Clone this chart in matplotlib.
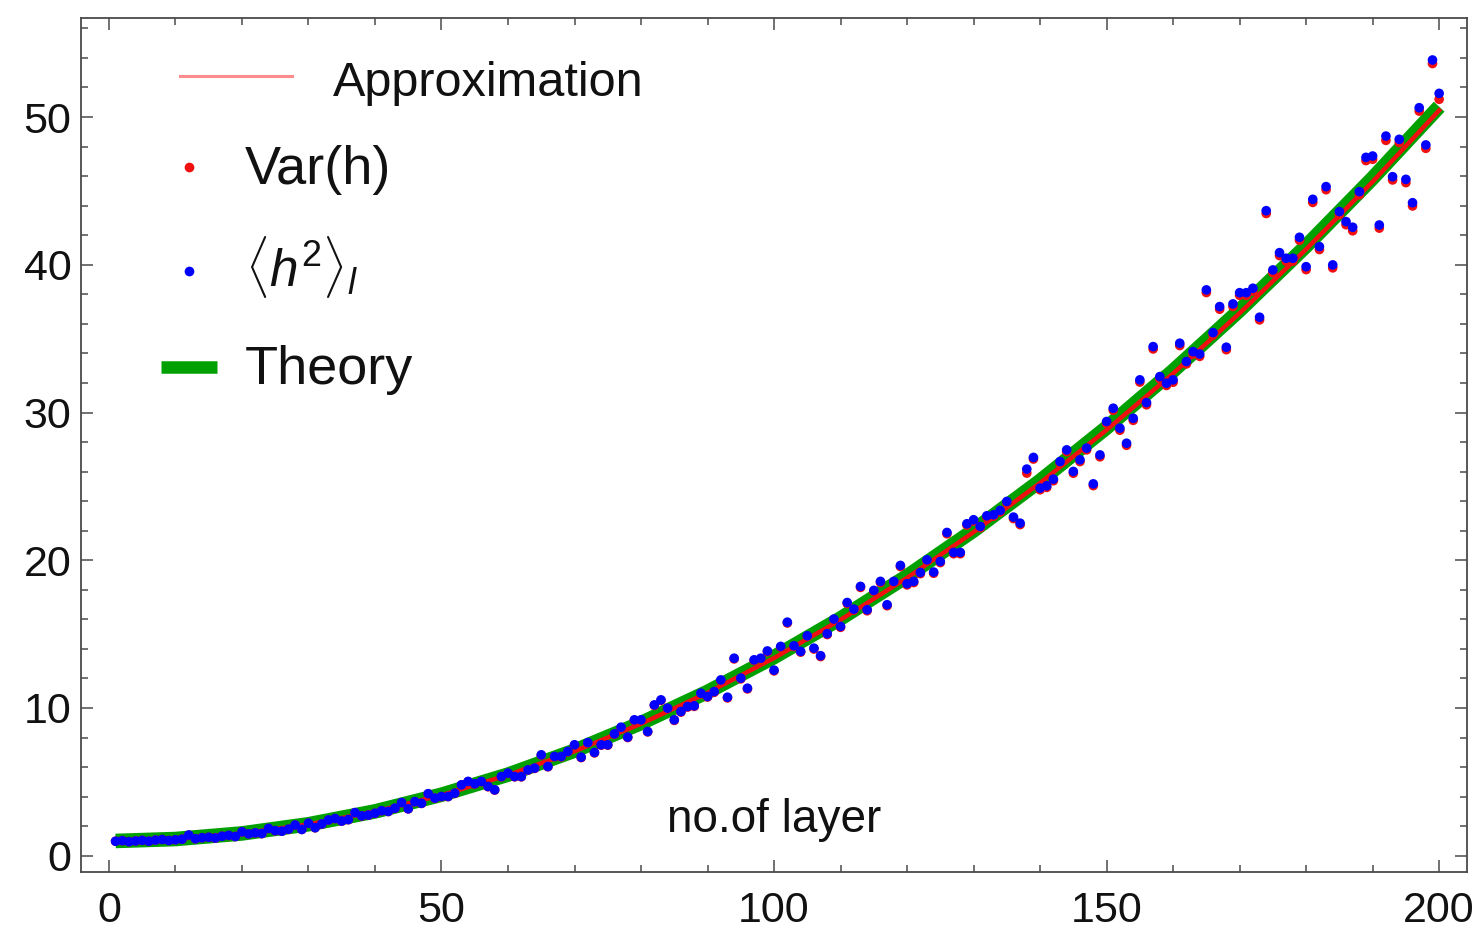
import matplotlib
matplotlib.use("Agg")
import matplotlib.pyplot as plt
from matplotlib.lines import Line2D
from matplotlib.ticker import MultipleLocator

plt.rcParams['font.family'] = ['Liberation Sans', 'DejaVu Sans']
plt.rcParams['mathtext.fontset'] = 'custom'
plt.rcParams['mathtext.rm'] = 'Liberation Sans'
plt.rcParams['mathtext.it'] = 'Liberation Sans:italic'

# layer index 1..200
layers = list(range(1, 201))

# <h^2>_l per layer
h2_mean = [
    0.98, 1.02, 0.95, 1.00, 1.04, 0.98, 1.06, 1.10, 1.03, 1.08,
    1.12, 1.40, 1.15, 1.22, 1.25, 1.20, 1.32, 1.38, 1.30, 1.62,
    1.48, 1.55, 1.50, 1.85, 1.70, 1.66, 1.80, 2.08, 1.78, 2.20,
    1.90, 2.15, 2.42, 2.52, 2.35, 2.45, 2.92, 2.70, 2.75, 2.88,
    3.05, 3.00, 3.22, 3.60, 3.18, 3.66, 3.55, 4.20, 3.90, 4.01,
    4.01, 4.24, 4.80, 5.03, 4.87, 5.03, 4.69, 4.46, 5.36, 5.59,
    5.36, 5.36, 5.81, 5.93, 6.83, 6.04, 6.72, 6.72, 7.06, 7.51,
    6.67, 7.66, 6.99, 7.51, 7.51, 8.25, 8.70, 8.03, 9.20, 9.20,
    8.41, 10.21, 10.55, 9.99, 9.20, 9.76, 10.10, 10.15, 11.00, 10.78,
    11.11, 11.90, 10.73, 13.37, 12.02, 11.34, 13.26, 13.37, 13.86, 12.56,
    14.17, 15.81, 14.21, 13.83, 14.89, 14.05, 13.54, 15.03, 16.02, 15.52,
    17.14, 16.69, 18.23, 16.65, 17.96, 18.57, 16.99, 18.57, 19.65, 18.41,
    18.57, 19.17, 20.03, 19.20, 19.92, 21.88, 20.53, 20.53, 22.47, 22.74,
    22.29, 23.01, 23.08, 23.37, 23.98, 22.92, 22.51, 26.17, 26.96, 24.88,
    25.04, 25.49, 26.68, 27.47, 26.01, 26.80, 27.59, 25.17, 27.13, 29.39,
    30.29, 28.94, 27.92, 29.61, 32.21, 30.67, 34.46, 32.43, 31.98, 32.21,
    34.69, 33.45, 34.12, 33.96, 38.30, 35.41, 37.17, 34.42, 37.35, 38.11,
    38.11, 38.41, 36.45, 43.66, 39.65, 40.82, 40.44, 40.44, 41.86, 39.87,
    44.43, 41.23, 45.29, 39.99, 43.60, 42.92, 42.54, 44.95, 47.27, 47.36,
    42.69, 48.71, 45.96, 48.49, 45.78, 44.20, 50.63, 48.11, 53.86, 51.60,
]

# Var(h) per layer
var_h = [
    0.98, 1.02, 0.95, 1.00, 1.04, 0.98, 1.06, 1.10, 1.03, 1.08,
    1.12, 1.39, 1.15, 1.22, 1.25, 1.20, 1.32, 1.37, 1.30, 1.61,
    1.48, 1.54, 1.50, 1.84, 1.69, 1.66, 1.79, 2.07, 1.78, 2.19,
    1.89, 2.14, 2.41, 2.51, 2.34, 2.44, 2.91, 2.69, 2.74, 2.87,
    3.04, 2.99, 3.21, 3.59, 3.17, 3.64, 3.54, 4.18, 3.89, 4.00,
    4.00, 4.22, 4.78, 5.01, 4.85, 5.01, 4.67, 4.44, 5.34, 5.57,
    5.34, 5.34, 5.79, 5.91, 6.80, 6.02, 6.70, 6.69, 7.03, 7.48,
    6.64, 7.63, 6.96, 7.48, 7.48, 8.22, 8.66, 8.00, 9.16, 9.16,
    8.38, 10.17, 10.51, 9.95, 9.16, 9.72, 10.06, 10.11, 10.95, 10.74,
    11.06, 11.85, 10.68, 13.32, 11.97, 11.29, 13.21, 13.32, 13.80, 12.51,
    14.12, 15.75, 14.16, 13.78, 14.83, 13.99, 13.48, 14.97, 15.96, 15.46,
    17.07, 16.62, 18.16, 16.58, 17.89, 18.49, 16.92, 18.49, 19.57, 18.33,
    18.49, 19.09, 19.95, 19.12, 19.84, 21.79, 20.44, 20.44, 22.38, 22.65,
    22.20, 22.91, 22.98, 23.27, 23.88, 22.82, 22.41, 25.90, 26.85, 24.77,
    24.93, 25.38, 26.56, 27.35, 25.89, 26.68, 27.47, 25.05, 27.00, 29.26,
    30.15, 28.80, 27.78, 29.47, 32.06, 30.52, 34.30, 32.28, 31.83, 32.05,
    34.53, 33.29, 33.96, 33.80, 38.12, 35.24, 36.99, 34.25, 37.17, 37.93,
    37.92, 38.22, 36.27, 43.47, 39.46, 40.62, 40.24, 40.24, 41.66, 39.67,
    44.22, 41.03, 45.08, 39.79, 43.39, 42.71, 42.30, 44.74, 47.05, 47.14,
    42.48, 48.42, 45.74, 48.27, 45.56, 43.98, 50.40, 47.88, 53.62, 51.20,
]

# smooth curves sampled every 10 layers
curve_x = [1, 10, 20, 30, 40, 50, 60, 70, 80, 90, 100,
           110, 120, 130, 140, 150, 160, 170, 180, 190, 200]
theory = [1.00, 1.13, 1.51, 2.13, 3.00, 4.13, 5.49, 7.11, 8.98, 11.09, 13.45,
          16.06, 18.92, 22.02, 25.37, 28.98, 32.82, 36.92, 41.27, 45.86, 50.70]
approx = [1.00, 1.13, 1.50, 2.12, 2.99, 4.10, 5.46, 7.07, 8.93, 11.03, 13.38,
          15.97, 18.81, 21.90, 25.23, 28.82, 32.64, 36.72, 41.05, 45.62, 50.45]

GREEN = '#00a000'
RED = '#f01010'
BLUE = '#0000ff'
FRAME = '#4a4a4a'

fig = plt.figure(figsize=(14.81, 9.34), dpi=100)
ax = fig.add_axes([0.0547, 0.0664, 0.9359, 0.9143])

ax.plot(curve_x, theory, color=GREEN, lw=10.5, solid_capstyle='butt', zorder=2)
ax.plot(curve_x, approx, color=RED, lw=3.2, zorder=3)
ax.scatter(layers, var_h, s=48, color=RED, edgecolors='none', zorder=4)
ax.scatter(layers, h2_mean, s=48, color=BLUE, edgecolors='none', zorder=5)

ax.set_xlim(-4.2, 204.2)
ax.set_ylim(-1.1, 56.7)
ax.xaxis.set_major_locator(MultipleLocator(50))
ax.xaxis.set_minor_locator(MultipleLocator(10))
ax.yaxis.set_major_locator(MultipleLocator(10))
ax.yaxis.set_minor_locator(MultipleLocator(2))
ax.tick_params(which='both', direction='in', top=True, right=True,
               color=FRAME, width=1.1, labelsize=31, labelcolor='#111111')
ax.tick_params(which='major', length=8.5)
ax.tick_params(which='minor', length=5)
ax.tick_params(axis='x', pad=14)
ax.tick_params(axis='y', pad=7)
for sp in ax.spines.values():
    sp.set_color(FRAME)
    sp.set_linewidth(1.3)

ax.text(100, 1.64, 'no.of layer', ha='center', va='baseline', fontsize=33,
        color='#111111')

# legend, drawn by hand in axes fraction
tr = ax.transAxes
ax.add_line(Line2D([0.0714, 0.1522], [0.932, 0.932], transform=tr,
                   color='#ff8c8c', lw=2.2))
ax.text(0.1818, 0.9086, 'Approximation', transform=tr, fontsize=35,
        va='baseline', color='#111111')
ax.add_line(Line2D([0.0779], [0.8253], transform=tr, marker='o', ms=7,
                   color=RED, mec='none', ls='none'))
ax.text(0.1183, 0.8054, 'Var(h)', transform=tr, fontsize=39,
        va='baseline', color='#111111')
ax.add_line(Line2D([0.0779], [0.7034], transform=tr, marker='o', ms=7,
                   color=BLUE, mec='none', ls='none'))
ax.text(0.1183, 0.6858, r'$\langle h^2\rangle_l$', transform=tr, fontsize=37,
        va='baseline', color='#111111')
ax.add_line(Line2D([0.0577, 0.0981], [0.591, 0.591], transform=tr,
                   color=GREEN, lw=9, solid_capstyle='butt'))
ax.text(0.1183, 0.5709, 'Theory', transform=tr, fontsize=39,
        va='baseline', color='#111111')

fig.savefig('out.png', dpi=100)
